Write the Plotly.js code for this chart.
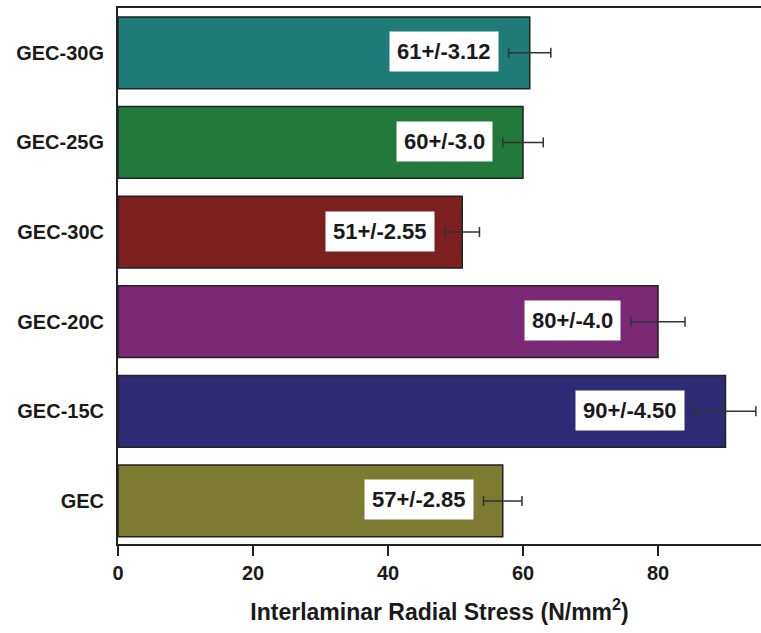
<!DOCTYPE html>
<html>
<head>
<meta charset="utf-8">
<script src="https://cdn.plot.ly/plotly-3.0.1.min.js"></script>
<style>html,body{margin:0;padding:0;background:#fff;}</style>
</head>
<body>
<div id="chart" style="width:761px;height:633px;"></div>
<script>
const categories = ["GEC", "GEC-15C", "GEC-20C", "GEC-30C", "GEC-25G", "GEC-30G"];
const values = [57, 90, 80, 51, 60, 61];
const errors = [2.85, 4.50, 4.0, 2.55, 3.0, 3.12];
const valueLabels = ["57+/-2.85", "90+/-4.50", "80+/-4.0", "51+/-2.55", "60+/-3.0", "61+/-3.12"];
const barColors = ["#7d7a32", "#2e2a73", "#7b2876", "#7b1f1f", "#217a3c", "#1e7b78"];
const xTicks = [0, 20, 40, 60, 80];

const font = "Liberation Sans, Arial, sans-serif";

const trace = {
  type: "bar",
  orientation: "h",
  y: categories,
  x: values,
  width: 0.8,
  marker: { color: barColors, line: { color: "#222", width: 1.5 } },
  error_x: { type: "data", array: errors, visible: true, color: "#333", thickness: 1.5, width: 5 },
  hoverinfo: "none"
};

const annotations = categories.map((c, i) => ({
  x: values[i] - errors[i],
  y: c,
  xref: "x",
  yref: "y",
  xanchor: "right",
  yanchor: "middle",
  xshift: -10,
  yshift: 1,
  text: "<b>" + valueLabels[i] + "</b>",
  showarrow: false,
  bgcolor: "#ffffff",
  borderpad: 7,
  font: { family: font, size: 22, color: "#1a1a1a" }
}));

const layout = {
  width: 761,
  height: 633,
  margin: { l: 118, r: 0, t: 8, b: 89 },
  paper_bgcolor: "#fff",
  plot_bgcolor: "#fff",
  showlegend: false,
  bargap: 0.2,
  xaxis: {
    range: [0, 95.26],
    tickvals: xTicks,
    ticktext: xTicks.map(v => "<b>" + v + "</b>"),
    ticks: "outside",
    ticklen: 10,
    tickwidth: 2,
    tickcolor: "#222",
    showline: true,
    linecolor: "#222",
    linewidth: 2,
    mirror: true,
    showgrid: false,
    zeroline: false,
    tickfont: { family: font, size: 20, color: "#1a1a1a" },
    title: {
      text: "<b>Interlaminar Radial Stress (N/mm<sup>2</sup>)</b>",
      font: { family: font, size: 23, color: "#1a1a1a" },
      standoff: 21
    }
  },
  yaxis: {
    type: "category",
    range: [-0.48, 5.5],
    categoryorder: "array",
    categoryarray: categories,
    ticktext: categories.map(c => "<b>" + c + "</b>"),
    tickvals: categories,
    ticks: "",
    ticklabelstandoff: 8,
    showline: true,
    linecolor: "#222",
    linewidth: 2,
    showgrid: false,
    zeroline: false,
    tickfont: { family: font, size: 20, color: "#1a1a1a" }
  },
  annotations: annotations
};

Plotly.newPlot("chart", [trace], layout, { displayModeBar: false, staticPlot: true });
</script>
</body>
</html>
